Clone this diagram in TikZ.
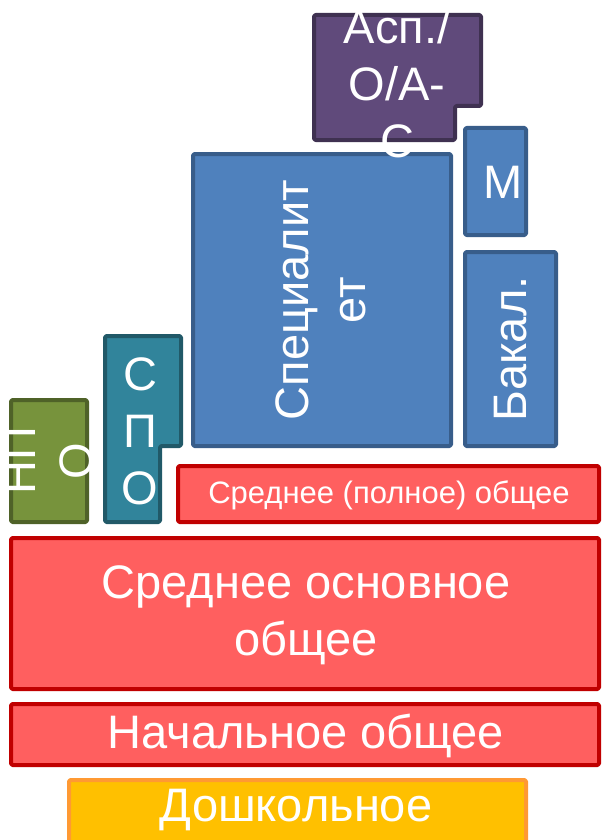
\documentclass[tikz,border=0pt]{standalone}
\usepackage{fontspec}
\setmainfont{Liberation Sans}
\definecolor{purpf}{HTML}{604A7B}
\definecolor{purpd}{HTML}{3F3151}
\definecolor{bluef}{HTML}{4F81BD}
\definecolor{blued}{HTML}{385D8A}
\definecolor{tealf}{HTML}{31849B}
\definecolor{teald}{HTML}{215968}
\definecolor{olivf}{HTML}{77933C}
\definecolor{olivd}{HTML}{4F6228}
\definecolor{redf}{HTML}{FF5F5F}
\definecolor{redd}{HTML}{C00000}
\definecolor{orf}{HTML}{FFC000}
\definecolor{ord}{HTML}{FF9933}
\tikzset{
  blk/.style={line width=4pt, rounded corners=1.5pt, line join=round},
  bigtxt/.style={text=white, font=\fontsize{47}{57}\selectfont, align=center, inner sep=0pt},
  smalltxt/.style={text=white, font=\fontsize{31}{37}\selectfont, align=center, inner sep=0pt}
}
\begin{document}
\begin{tikzpicture}[x=1pt,y=-1pt]
\clip (0,0) rectangle (602,840);
\fill[white] (0,0) rectangle (602,840);
% shapes
\draw[blk, fill=purpf, draw=purpd] (314,15) -- (481,15) -- (481,106) -- (455,106) -- (455,140) -- (314,140) -- cycle;
\draw[blk, fill=bluef, draw=blued] (193,154) rectangle (451,446);
\draw[blk, fill=bluef, draw=blued] (465,128) rectangle (526,235);
\draw[blk, fill=bluef, draw=blued] (465,252) rectangle (556,446);
\draw[blk, fill=olivf, draw=olivd] (11,400) rectangle (87,522);
\draw[blk, fill=tealf, draw=teald] (105,336) -- (181,336) -- (181,446) -- (160,446) -- (160,522) -- (105,522) -- cycle;
\draw[blk, fill=redf, draw=redd] (178,466) rectangle (599,522);
\draw[blk, fill=redf, draw=redd] (11,538) rectangle (599,689);
\draw[blk, fill=redf, draw=redd] (11,704) rectangle (599,765);
\draw[blk, fill=orf, draw=ord] (69,780) rectangle (526,870);
% texts
\node[bigtxt] (asp) at (397,84) {Асп./\\О/А-\\С};
\node[bigtxt, rotate=90] (spec) at (321,300) {Специалит\\ет};
\node[bigtxt] (mag) at (503,182) {М};
\node[bigtxt, rotate=90] (bak) at (511,349) {Бакал.};
\node[bigtxt, rotate=90] (npo) at (48,461) {НП\\О};
\node[bigtxt] (spo) at (140,431) {С\\П\\О};
\node[smalltxt] (spoln) at (389,495) {Среднее (полное) общее};
\node[bigtxt] (sosn) at (306,615) {Среднее основное\\общее};
\node[bigtxt] (nach) at (306,736) {Начальное общее};
\node[bigtxt] (dosh) at (296,810) {Дошкольное};
\end{tikzpicture}
\end{document}
